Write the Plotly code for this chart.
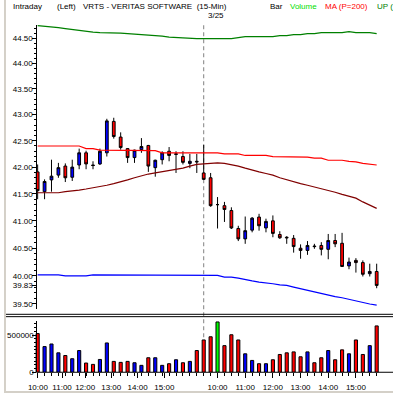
import math
import plotly.graph_objects as go

# ---------------- data ----------------
session = ["3/24"] * 24 + ["3/25"] * 26

open_ = [41.91, 41.54, 41.76, 41.85, 42.02, 41.81, 42.04, 42.27, 42.04, 42.06,
         42.27, 42.87, 42.57, 42.35, 42.18, 42.33, 42.41, 41.99, 42.14, 42.30,
         42.24, 42.20, 42.07, 42.11,
         41.89, 41.80, 41.30, 41.28, 41.19, 40.86, 40.67, 40.83, 41.07, 40.87,
         41.00, 40.75, 40.70, 40.68, 40.50, 40.46, 40.54, 40.55, 40.48, 40.64,
         40.59, 40.18, 40.28, 40.24, 40.04, 40.08]
high = [42.05, 41.77, 42.14, 42.08, 42.07, 42.14, 42.35, 42.31, 42.11, 42.35,
        42.92, 42.94, 42.66, 42.36, 42.33, 42.55, 42.42, 42.14, 42.30, 42.38,
        42.30, 42.30, 42.25, 42.25,
        42.42, 41.89, 41.44, 41.35, 41.25, 40.91, 41.08, 41.07, 41.13, 41.04,
        41.10, 40.81, 40.72, 40.74, 40.57, 40.63, 40.58, 40.61, 40.76, 40.76,
        40.78, 40.33, 40.32, 40.28, 40.22, 40.22]
low = [41.40, 41.40, 41.54, 41.80, 41.72, 41.74, 41.96, 41.96, 41.96, 42.04,
       42.20, 42.54, 42.33, 42.08, 42.08, 42.27, 41.91, 41.82, 42.05, 42.11,
       41.89, 42.05, 41.98, 41.89,
       41.76, 41.26, 40.86, 40.98, 40.85, 40.63, 40.58, 40.79, 40.82, 40.79,
       40.70, 40.67, 40.58, 40.42, 40.31, 40.38, 40.49, 40.37, 40.30, 40.52,
       40.16, 40.12, 40.06, 39.99, 39.99, 39.78]
close = [41.56, 41.73, 41.83, 41.99, 41.80, 42.00, 42.27, 42.06, 42.03, 42.30,
         42.88, 42.58, 42.37, 42.18, 42.32, 42.39, 42.02, 42.13, 42.27, 42.22,
         42.25, 42.09, 42.11, 42.10,
         41.77, 41.28, 41.30, 41.21, 40.87, 40.67, 40.82, 41.05, 40.91, 40.99,
         40.77, 40.69, 40.69, 40.53, 40.46, 40.55, 40.53, 40.48, 40.64, 40.58,
         40.17, 40.25, 40.24, 40.03, 40.08, 39.83]
volume = [520000, 345000, 380000, 261000, 225000, 182000, 292000, 124000, 106000, 172000,
          394000, 146000, 133000, 146000, 128000, 93000, 195000, 195000, 93000, 115000,
          168000, 128000, 146000, 292000,
          434000, 477000, 676000, 358000, 504000, 434000, 248000, 159000, 115000, 115000,
          168000, 239000, 261000, 274000, 208000, 274000, 128000, 195000, 292000, 168000,
          301000, 248000, 434000, 239000, 358000, 623000]

ma_200 = [42.40, 42.40, 42.40, 42.40, 42.40, 42.40, 42.40, 42.35, 42.35, 42.32,
          42.32, 42.32, 42.32, 42.32, 42.31, 42.31, 42.31, 42.31, 42.27, 42.27,
          42.27, 42.27, 42.27, 42.27, 42.27, 42.27, 42.27, 42.25, 42.25, 42.25,
          42.22, 42.22, 42.22, 42.22, 42.20, 42.20, 42.20, 42.19, 42.19, 42.19,
          42.17, 42.17, 42.13, 42.13, 42.13, 42.11, 42.10, 42.07, 42.06, 42.04]
ma_fast = [41.52, 41.52, 41.52, 41.52, 41.54, 41.55, 41.57, 41.59, 41.61, 41.63,
           41.66, 41.69, 41.72, 41.76, 41.80, 41.84, 41.87, 41.89, 41.91, 41.93,
           41.96, 41.98, 42.02, 42.05, 42.06, 42.07, 42.08, 42.07, 42.05, 42.02,
           41.98, 41.94, 41.91, 41.88, 41.85, 41.80, 41.76, 41.72, 41.69, 41.66,
           41.63, 41.60, 41.56, 41.53, 41.49, 41.45, 41.42, 41.35, 41.29, 41.23]
band_up = [44.75, 44.74, 44.73, 44.71, 44.69, 44.67, 44.66, 44.64, 44.62, 44.61,
           44.61, 44.61, 44.60, 44.59, 44.58, 44.57, 44.57, 44.55, 44.54, 44.52,
           44.51, 44.50, 44.49, 44.49, 44.49, 44.49, 44.49, 44.49, 44.49, 44.51,
           44.53, 44.53, 44.53, 44.53, 44.53, 44.55, 44.55, 44.57, 44.57, 44.59,
           44.59, 44.61, 44.61, 44.61, 44.61, 44.63, 44.61, 44.61, 44.61, 44.59]
band_dn = [40.02, 40.02, 40.02, 40.02, 40.00, 40.00, 40.00, 40.00, 40.02, 40.02,
           40.02, 40.02, 40.02, 40.02, 40.02, 40.02, 40.02, 40.02, 40.02, 40.02,
           40.02, 40.02, 40.02, 40.02, 40.02, 40.02, 40.01, 39.98, 39.98, 39.96,
           39.93, 39.91, 39.89, 39.88, 39.86, 39.84, 39.83, 39.80, 39.77, 39.74,
           39.71, 39.69, 39.66, 39.63, 39.61, 39.58, 39.55, 39.53, 39.50, 39.48]

time_labels = ["10:00", "11:00", "12:00", "13:00", "14:00", "15:00"] * 2
time_label_bars = [0.04, 3.53, 6.87, 10.63, 14.45, 18.31, 26, 30, 34, 38, 42, 46]
price_ticks = [39.5, 40.0, 40.5, 41.0, 41.5, 42.0, 42.5, 43.0, 43.5, 44.0, 44.5]
volume_ticks = [0, 500000]

# ---------------- layout helpers ----------------
W, H = 393, 398
FONT = "Arial, 'Liberation Sans', sans-serif"


def fx(px):
    return px / W


def fy(py):
    return 1 - py / H


bars = list(range(len(close)))
day2 = session.index("3/25")
last_close = close[-1]

vol_colors = ["#0000ff" if c > o else ("#ff0000" if c < o else "#00ff00")
              for o, c in zip(open_, close)]

fig = go.Figure()

fig.add_trace(go.Candlestick(
    x=bars, open=open_, high=high, low=low, close=close,
    increasing=dict(line=dict(color="black", width=1), fillcolor="#0000ff"),
    decreasing=dict(line=dict(color="black", width=1), fillcolor="#ff0000"),
    whiskerwidth=0, xaxis="x", yaxis="y", hoverinfo="skip", showlegend=False))

for vals, col in [(band_up, "#008000"), (ma_200, "#ff0000"),
                  (ma_fast, "#800000"), (band_dn, "#0000ff")]:
    fig.add_trace(go.Scatter(x=bars, y=vals, mode="lines",
                             line=dict(color=col, width=1.2),
                             xaxis="x", yaxis="y", hoverinfo="skip",
                             showlegend=False))

fig.add_trace(go.Bar(x=bars, y=volume, width=0.45,
                     marker=dict(color=vol_colors, line=dict(color="black", width=1)),
                     xaxis="x2", yaxis="y2", hoverinfo="skip", showlegend=False))

price_tick_vals = price_ticks + [last_close]
price_tick_text = ["%.2f" % v for v in price_tick_vals]
minor_price = [round(39.5 + 0.1 * k, 2) for k in range(0, 53)]

axis_pos = fx(32.7)
xrange_ = [-0.858, 51.36]

fig.update_layout(
    width=W, height=H, autosize=False,
    margin=dict(l=0, r=0, t=0, b=0),
    paper_bgcolor="white", plot_bgcolor="white",
    font=dict(family=FONT, size=8, color="black"),
    boxgap=0.43, bargap=0,
    xaxis=dict(domain=[fx(28), 1], range=xrange_, anchor="y",
               rangeslider=dict(visible=False),
               showticklabels=False, ticks="", showline=False,
               showgrid=False, zeroline=False),
    yaxis=dict(domain=[fy(313), fy(25)], type="log",
               range=[math.log10(39.41), math.log10(44.77)],
               anchor="free", position=axis_pos,
               tickvals=price_tick_vals, ticktext=price_tick_text,
               ticks="outside", ticklen=4, tickcolor="black", tickwidth=1,
               ticklabelstandoff=-2,
               minor=dict(tickvals=minor_price, ticks="outside", ticklen=2,
                          tickcolor="black", tickwidth=1),
               showline=True, linecolor="black", linewidth=1,
               showgrid=False, zeroline=False,
               tickfont=dict(size=8, family=FONT, color="black")),
    xaxis2=dict(domain=[fx(28), 1], range=xrange_, matches="x", anchor="y2",
                rangeslider=dict(visible=False),
                tickvals=time_label_bars, ticktext=time_labels,
                ticks="outside", ticklen=5, tickcolor="black", tickwidth=1,
                ticklabelstandoff=2,
                minor=dict(tickvals=bars, ticks="outside", ticklen=3,
                           tickcolor="black", tickwidth=1),
                showline=False, showgrid=False, zeroline=False,
                tickfont=dict(size=8, family=FONT, color="black")),
    yaxis2=dict(domain=[fy(377), fy(325)], range=[0, 690000],
                anchor="free", position=axis_pos,
                tickvals=volume_ticks, ticktext=[str(v) for v in volume_ticks],
                ticks="outside", ticklen=4, tickcolor="black", tickwidth=1,
                ticklabelstandoff=-3,
                minor=dict(dtick=50000, tick0=0, ticks="outside", ticklen=2,
                           tickcolor="black", tickwidth=1),
                showline=True, linecolor="black", linewidth=1,
                showgrid=False, zeroline=False,
                tickfont=dict(size=8, family=FONT, color="black")),
)

shapes = [
    # day boundary
    dict(type="line", xref="x", yref="paper", x0=day2, x1=day2,
         y0=fy(377), y1=fy(23), layer="below",
         line=dict(color="#808080", width=1, dash="4px,3px")),
    # panel separator (double rule)
    dict(type="line", xref="paper", yref="paper", x0=0, x1=1,
         y0=fy(318.3), y1=fy(318.3), line=dict(color="black", width=1)),
    dict(type="line", xref="paper", yref="paper", x0=0, x1=1,
         y0=fy(320.7), y1=fy(320.7), line=dict(color="black", width=1)),
    # volume time axis line
    dict(type="line", xref="paper", yref="paper", x0=axis_pos, x1=1,
         y0=fy(377), y1=fy(377), line=dict(color="black", width=1)),
    # window frame edges
    dict(type="rect", xref="paper", yref="paper", x0=0, x1=fx(2),
         y0=0, y1=1, line=dict(width=0), fillcolor="#d4d0c8"),
    dict(type="rect", xref="paper", yref="paper", x0=0, x1=1,
         y0=0, y1=fy(396), line=dict(width=0), fillcolor="#d4d0c8"),
]

header = [
    ("Intraday", 7, "black"),
    ("(Left)", 52, "black"),
    ("VRTS - VERITAS SOFTWARE  (15-Min)", 78, "black"),
    ("Bar", 267, "black"),
    ("Volume", 287, "#00e000"),
    ("MA (P=200)", 322, "#ff0000"),
    ("UP (", 375, "#008000"),
]
annotations = [dict(text=t, x=fx(px), y=fy(6.5), xref="paper", yref="paper",
                    xanchor="left", yanchor="middle", showarrow=False,
                    font=dict(size=8, family=FONT, color=c))
               for t, px, c in header]
annotations.append(dict(text=session[day2], x=day2, xref="x", y=fy(16), yref="paper",
                        xanchor="left", yanchor="middle", xshift=2, showarrow=False,
                        font=dict(size=8, family=FONT, color="black")))

fig.update_layout(shapes=shapes, annotations=annotations)

fig.write_html(
    "out.html",
    config=dict(displayModeBar=False, staticPlot=True),
    post_script="document.body.style.margin='0';document.body.style.overflow='hidden';",
)
